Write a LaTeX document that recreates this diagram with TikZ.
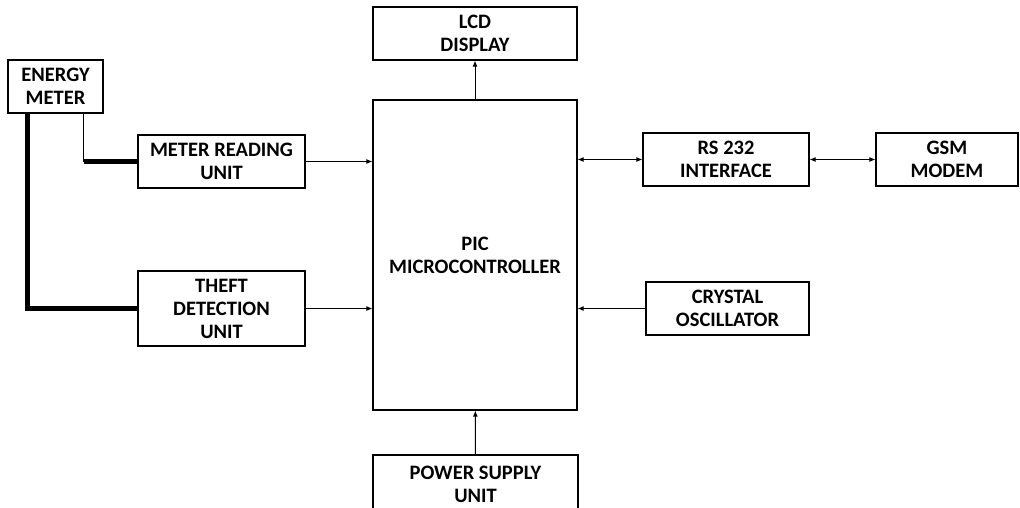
\documentclass[tikz,border=0pt]{standalone}
\usepackage{fontspec}
\setmainfont{Carlito}
\usetikzlibrary{arrows.meta,positioning}

\begin{document}
\begin{tikzpicture}[
  x=1pt,y=-1pt,
  block/.style={draw,line width=1.2pt,align=center,inner sep=0pt,font=\bfseries\fontsize{20.5}{23}\selectfont},
  arrow/.style={-{Latex[length=6pt,width=5pt]},line width=0.9pt},
  biarrow/.style={{Latex[length=6pt,width=5pt]}-{Latex[length=6pt,width=5pt]},line width=0.9pt},
  feed/.style={line width=4.5pt}
]
\useasboundingbox (0,0) rectangle (1020,507);
\node[block,minimum width=95pt,minimum height=53pt] (energy) at (55.5,86.5) {ENERGY\\METER};
\node[block,minimum width=167pt,minimum height=53pt] (meter) at (221.5,161.5) {METER READING\\UNIT};
\node[block,minimum width=167pt,minimum height=75pt] (theft) at (221.5,308.5) {THEFT\\DETECTION\\UNIT};
\node[block,minimum width=204pt,minimum height=310pt] (pic) at (475,255) {PIC\\MICROCONTROLLER};
\node[block,minimum width=204pt,minimum height=53pt] (lcd) at (475,33.5) {LCD\\DISPLAY};
\node[block,minimum width=205pt,minimum height=58pt] (power) at (475.5,484) {POWER SUPPLY\\UNIT};
\node[block,minimum width=166pt,minimum height=53pt] (rs232) at (726,159.5) {RS 232\\INTERFACE};
\node[block,minimum width=142pt,minimum height=53pt] (gsm) at (947,159.5) {GSM\\MODEM};
\node[block,minimum width=163pt,minimum height=53pt] (crystal) at (727.5,308.5) {CRYSTAL\\OSCILLATOR};
% meter taps
\coordinate (tap) at ([xshift=-20pt]energy.south east |- meter.west);
\draw[line width=1.2pt] ([xshift=-20pt]energy.south east) -- (tap);
\draw[feed] (tap) -- (meter.west);
\draw[feed] ([xshift=20pt]energy.south west) |- (theft.west);
% signals to controller
\draw[arrow] (meter.east) -- (meter.east -| pic.west);
\draw[arrow] (theft.east) -- (theft.east -| pic.west);
\draw[arrow] (pic) -- (lcd);
\draw[arrow] (power) -- (pic);
\draw[biarrow] (rs232.west -| pic.east) -- (rs232.west);
\draw[biarrow] (rs232) -- (gsm);
\draw[arrow] (crystal) -- (crystal -| pic.east);
\end{tikzpicture}
\end{document}
